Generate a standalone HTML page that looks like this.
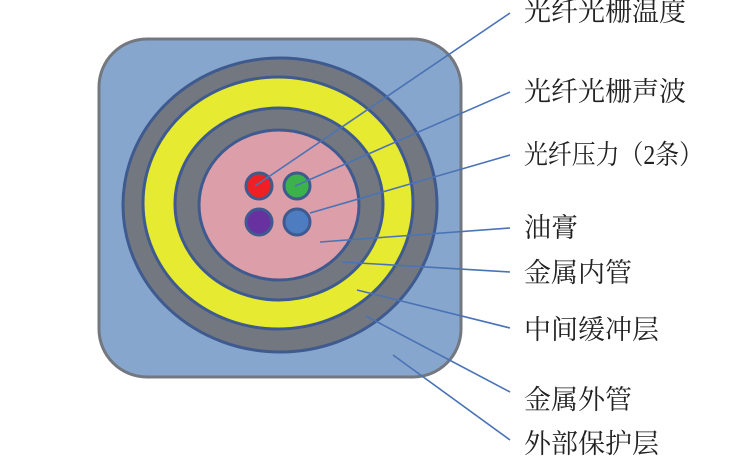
<!DOCTYPE html>
<html><head><meta charset="utf-8"><style>
html,body{margin:0;padding:0;background:#fff;}
svg{display:block;}
text{font-family:"Liberation Serif","Noto Serif CJK SC",serif;font-size:27px;fill:#222;}
</style></head><body>
<svg width="747" height="463" viewBox="0 0 747 463" xmlns="http://www.w3.org/2000/svg">
<rect x="99" y="39" width="362" height="338" rx="48" ry="48" fill="#87a6cd" stroke="#737880" stroke-width="3"/>
<ellipse cx="280" cy="205" rx="157" ry="147" fill="#737880" stroke="#3f5a8f" stroke-width="3"/>
<ellipse cx="278" cy="203" rx="135" ry="126" fill="#e6ea30" stroke="#3f5a8f" stroke-width="3"/>
<ellipse cx="279" cy="204" rx="104" ry="96" fill="#737880" stroke="#3f5a8f" stroke-width="3"/>
<ellipse cx="279" cy="205" rx="80" ry="75" fill="#dc9ea8" stroke="#3f5a8f" stroke-width="3"/>
<circle cx="259" cy="186" r="13" fill="#ee2024" stroke="#3f5a8f" stroke-width="3"/>
<circle cx="297" cy="186" r="13" fill="#3cb24a" stroke="#3f5a8f" stroke-width="3"/>
<circle cx="259" cy="222" r="13" fill="#6732a0" stroke="#3f5a8f" stroke-width="3"/>
<circle cx="297" cy="222" r="13" fill="#4d7cc0" stroke="#3f5a8f" stroke-width="3"/>
<g stroke="#4a73b5" stroke-width="1.6" fill="none">
<line x1="255" y1="186" x2="510" y2="13"/>
<line x1="295" y1="186" x2="510" y2="92"/>
<line x1="310" y1="213" x2="510" y2="155"/>
<line x1="320" y1="242" x2="510" y2="228"/>
<line x1="342" y1="262" x2="510" y2="272"/>
<line x1="357" y1="290" x2="510" y2="328"/>
<line x1="366" y1="316" x2="510" y2="392"/>
<line x1="393" y1="355" x2="510" y2="440"/>
</g>
<g dominant-baseline="central">
<text x="524" y="12" textLength="162">光纤光栅温度</text>
<text x="524" y="92" textLength="162">光纤光栅声波</text>
<text x="524" y="155" textLength="179" lengthAdjust="spacingAndGlyphs">光纤压力（2条）</text>
<text x="524" y="228">油膏</text>
<text x="524" y="273">金属内管</text>
<text x="524" y="330">中间缓冲层</text>
<text x="524" y="400">金属外管</text>
<text x="524" y="444">外部保护层</text>
</g>
</svg>
</body></html>
